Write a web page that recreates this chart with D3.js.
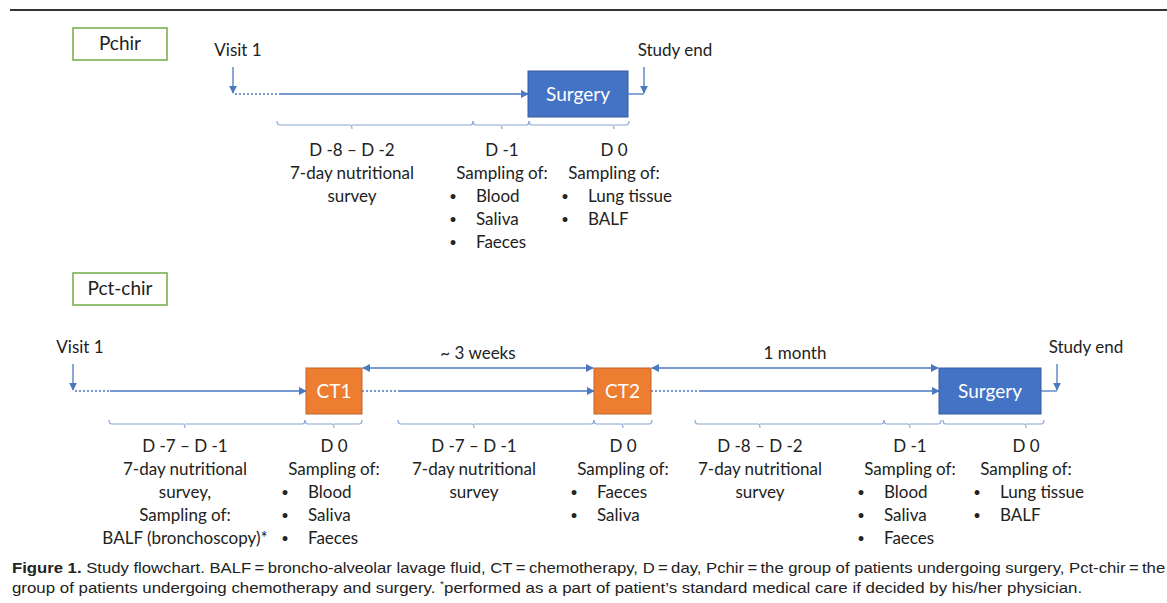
<!DOCTYPE html>
<html>
<head>
<meta charset="utf-8">
<script src="https://cdn.jsdelivr.net/npm/d3@7"></script>
<style>
  body { margin: 0; background: #fff; }
  svg { display: block; }
</style>
</head>
<body>
<svg id="chart"></svg>
<script>
// Flowchart layout, all positions in picture units
const groupNames = ['Pchir', 'Pct-chir'];

// boxes on each timeline
const pchirBoxes = [{ name: 'Surgery', from: 528, to: 628, kind: 'surgery' }];
const pctBoxes = [
    { name: 'CT1', from: 306, to: 362, kind: 'ct' },
    { name: 'CT2', from: 594, to: 651, kind: 'ct' },
    { name: 'Surgery', from: 939, to: 1041, kind: 'surgery' }
];

// timeline arrows: dotted part then solid part
const pchirSegments = [{ from: 235, dotTo: 281, to: 528 }];
const pctSegments = [
    { from: 75, dotTo: 110, to: 306 },
    { from: 362, dotTo: 400, to: 594 },
    { from: 651, dotTo: 700, to: 939 }
];

// double-headed intervals above the Pct-chir line
const intervals = [
    { label: '~ 3 weeks', from: 362, to: 594 },
    { label: '1 month', from: 651, to: 939 }
];

// visit / end markers
const pchirMarks = [{ label: 'Visit 1', at: 233, textAt: 238 }, { label: 'Study end', at: 644, textAt: 675, from: 628 }];
const pctMarks = [{ label: 'Visit 1', at: 73, textAt: 80 }, { label: 'Study end', at: 1057, textAt: 1086, from: 1041 }];

// brackets + text under them
const pchirBrackets = [
    { from: 277, to: 473, tick: 352, head: 'D -8 – D -2', lines: ['7-day nutritional', 'survey'], items: [] },
    { from: 473, to: 529, tick: 502, head: 'D -1', lines: ['Sampling of:'], items: ['Blood', 'Saliva', 'Faeces'] },
    { from: 529, to: 629, tick: 614, head: 'D 0', lines: ['Sampling of:'], items: ['Lung tissue', 'BALF'] }
];
const pctBrackets = [
    { from: 109, to: 305, tick: 185, head: 'D -7 – D -1', lines: ['7-day nutritional', 'survey,', 'Sampling of:', 'BALF (bronchoscopy)*'], items: [] },
    { from: 305, to: 362, tick: 334, head: 'D 0', lines: ['Sampling of:'], items: ['Blood', 'Saliva', 'Faeces'] },
    { from: 398, to: 594, tick: 474, head: 'D -7 – D -1', lines: ['7-day nutritional', 'survey'], items: [] },
    { from: 594, to: 652, tick: 623, head: 'D 0', lines: ['Sampling of:'], items: ['Faeces', 'Saliva'] },
    { from: 695, to: 884, tick: 760, head: 'D -8 – D -2', lines: ['7-day nutritional', 'survey'], items: [] },
    { from: 884, to: 941, tick: 910, head: 'D -1', lines: ['Sampling of:'], items: ['Blood', 'Saliva', 'Faeces'] },
    { from: 943, to: 1044, tick: 1026, head: 'D 0', lines: ['Sampling of:'], items: ['Lung tissue', 'BALF'] }
];

const captionLines = [
    { bold: 'Figure 1.', text: ' Study flowchart. BALF\u2009=\u2009broncho-alveolar lavage fluid, CT\u2009=\u2009chemotherapy, D\u2009=\u2009day, Pchir\u2009=\u2009the group of patients undergoing surgery, Pct-chir\u2009=\u2009the', width: 1154 },
    { bold: '', text: 'group of patients undergoing chemotherapy and surgery. ', sup: '*', after: 'performed as a part of patient\u2019s standard medical care if decided by his/her physician.', width: 1071 }
];

const width = 1167, height = 603;
const font = 'Lato, "Open Sans", sans-serif';
const fs = 17;
const lineColor = '#4a78c2';
const bracketColor = '#8aa6d2';
const boxColor = { surgery: '#4472c4', ct: '#ed7d31' };

const svg = d3.select('#chart').attr('width', width).attr('height', height);
const x = d3.scaleLinear().domain([0, width]).range([0, width]);

// arrow marker
const defs = svg.append('defs');
defs.append('marker')
    .attr('id', 'head')
    .attr('viewBox', '0 0 10 10')
    .attr('refX', 9).attr('refY', 5)
    .attr('markerWidth', 8).attr('markerHeight', 8)
    .attr('markerUnits', 'userSpaceOnUse')
    .attr('orient', 'auto-start-reverse')
    .append('path').attr('d', 'M0,0 L10,5 L0,10 z').attr('fill', lineColor);

// top rule
svg.append('line')
    .attr('x1', 10).attr('x2', width).attr('y1', 10).attr('y2', 10)
    .attr('stroke', '#333').attr('stroke-width', 2);

function drawGroup(cfg) {
    const g = svg.append('g');
    const yL = cfg.lineY;

    // group label box
    g.append('rect')
        .attr('x', x(73)).attr('y', cfg.labelY - 16).attr('width', x(167) - x(73)).attr('height', 32)
        .attr('fill', '#fff').attr('stroke', '#70ad47').attr('stroke-width', 1.5);
    g.append('text')
        .attr('x', x(120)).attr('y', cfg.labelY + 6)
        .attr('text-anchor', 'middle').attr('font-family', font).attr('font-size', 19)
        .attr('fill', '#222').text(cfg.name);

    // dotted + solid timeline pieces
    g.selectAll('.dot').data(cfg.segments).enter().append('line')
        .attr('x1', d => x(d.from)).attr('x2', d => x(d.dotTo))
        .attr('y1', yL).attr('y2', yL)
        .attr('stroke', lineColor).attr('stroke-width', 1.3).attr('stroke-dasharray', '2,2');
    g.selectAll('.solid').data(cfg.segments).enter().append('line')
        .attr('x1', d => x(d.dotTo)).attr('x2', d => x(d.to))
        .attr('y1', yL).attr('y2', yL)
        .attr('stroke', lineColor).attr('stroke-width', 1.3)
        .attr('marker-end', 'url(#head)');

    // boxes
    g.selectAll('.box').data(cfg.boxes).enter().append('rect')
        .attr('x', d => x(d.from)).attr('y', yL - 23)
        .attr('width', d => x(d.to) - x(d.from)).attr('height', 46)
        .attr('fill', d => boxColor[d.kind])
        .attr('stroke', d => d3.color(boxColor[d.kind]).darker(0.6)).attr('stroke-width', 1);
    g.selectAll('.boxlabel').data(cfg.boxes).enter().append('text')
        .attr('x', d => x((d.from + d.to) / 2)).attr('y', yL + 7)
        .attr('text-anchor', 'middle').attr('font-family', font).attr('font-size', 19)
        .attr('fill', '#fff').text(d => d.name);

    // visit / study end markers
    cfg.marks.forEach(m => {
        if (m.from !== undefined) {
            g.append('line')
                .attr('x1', x(m.from)).attr('x2', x(m.at)).attr('y1', yL).attr('y2', yL)
                .attr('stroke', lineColor).attr('stroke-width', 1.3);
        }
        g.append('line')
            .attr('x1', x(m.at)).attr('x2', x(m.at))
            .attr('y1', yL - 27).attr('y2', yL - 1)
            .attr('stroke', lineColor).attr('stroke-width', 1.3)
            .attr('marker-end', 'url(#head)');
        g.append('text')
            .attr('x', x(m.textAt)).attr('y', yL - 38)
            .attr('text-anchor', 'middle').attr('font-family', font).attr('font-size', fs)
            .attr('fill', '#222').text(m.label);
    });

    // intervals
    g.selectAll('.interval').data(cfg.intervals).enter().append('line')
        .attr('x1', d => x(d.from) + 1).attr('x2', d => x(d.to) - 1)
        .attr('y1', yL - 23).attr('y2', yL - 23)
        .attr('stroke', lineColor).attr('stroke-width', 1.3)
        .attr('marker-start', 'url(#head)').attr('marker-end', 'url(#head)');
    g.selectAll('.intlabel').data(cfg.intervals).enter().append('text')
        .attr('x', d => x((d.from + d.to) / 2)).attr('y', yL - 32)
        .attr('text-anchor', 'middle').attr('font-family', font).attr('font-size', fs)
        .attr('fill', '#222').text(d => d.label);

    // brackets
    const yB = cfg.bracketY;
    g.selectAll('.bracket').data(cfg.brackets).enter().append('path')
        .attr('d', d => `M${x(d.from)},${yB - 4} Q${x(d.from)},${yB} ${x(d.from) + 3},${yB}` +
            ` L${x(d.tick) - 2},${yB} Q${x(d.tick)},${yB} ${x(d.tick)},${yB + 4}` +
            ` M${x(d.tick)},${yB} L${x(d.to) - 3},${yB} Q${x(d.to)},${yB} ${x(d.to)},${yB - 4}`)
        .attr('fill', 'none').attr('stroke', bracketColor).attr('stroke-width', 1.2);

    // texts under brackets
    const step = 23;
    cfg.brackets.forEach(b => {
        const rows = [b.head].concat(b.lines);
        rows.forEach((t, i) => {
            g.append('text')
                .attr('x', x(b.tick)).attr('y', cfg.textY + i * step)
                .attr('text-anchor', 'middle').attr('font-family', font).attr('font-size', fs)
                .attr('fill', '#222').text(t);
        });
        b.items.forEach((t, i) => {
            const yy = cfg.textY + (rows.length + i) * step;
            g.append('text')
                .attr('x', x(b.tick) - 49).attr('y', yy - 1)
                .attr('text-anchor', 'middle').attr('font-family', font).attr('font-size', 13)
                .attr('fill', '#222').text('\u2022');
            g.append('text')
                .attr('x', x(b.tick) - 26).attr('y', yy)
                .attr('font-family', font).attr('font-size', fs)
                .attr('fill', '#222').text(t);
        });
    });
}

drawGroup({
    name: groupNames[0], labelY: 44, lineY: 94, bracketY: 125, textY: 156,
    boxes: pchirBoxes, segments: pchirSegments, marks: pchirMarks, intervals: [], brackets: pchirBrackets
});
drawGroup({
    name: groupNames[1], labelY: 289, lineY: 391, bracketY: 424, textY: 452,
    boxes: pctBoxes, segments: pctSegments, marks: pctMarks, intervals: intervals, brackets: pctBrackets
});

// caption
const capFont = '"Liberation Sans", Arial, sans-serif';
captionLines.forEach((c, i) => {
    const t = svg.append('text')
        .attr('x', 12).attr('y', 573 + i * 20)
        .attr('font-family', capFont).attr('font-size', 15).attr('fill', '#222');
    if (c.bold) t.append('tspan').attr('font-weight', 'bold').text(c.bold);
    t.append('tspan').text(c.text);
    if (c.sup) {
        t.append('tspan').attr('font-size', 9).attr('dy', -6).text(c.sup);
        t.append('tspan').attr('dy', 6).text(c.after);
    }
    const w = t.node().getComputedTextLength();
    t.attr('transform', `translate(${12 - 12 * c.width / w},0) scale(${c.width / w},1)`);
});
</script>
</body>
</html>
